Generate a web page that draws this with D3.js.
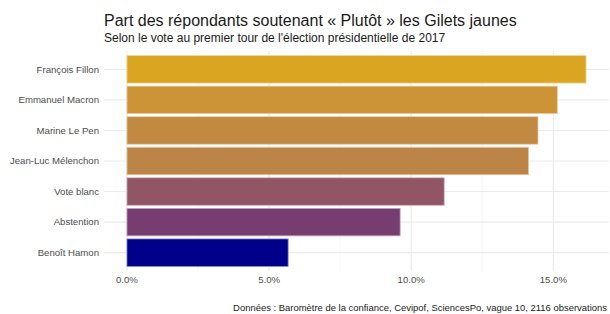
<!DOCTYPE html>
<html>
<head>
<meta charset="utf-8">
<script src="https://cdn.jsdelivr.net/npm/d3@7"></script>
<style>
  body { margin: 0; background: #fff; }
  text { font-family: "Liberation Sans", Arial, sans-serif; }
</style>
</head>
<body>
<div id="chart"></div>
<script>
// Data
const categories = ['François Fillon', 'Emmanuel Macron', 'Marine Le Pen', 'Jean-Luc Mélenchon',
                    'Vote blanc', 'Abstention', 'Benoît Hamon'];
const shares = [16.15, 15.14, 14.46, 14.13, 11.16, 9.61, 5.67];
const tickValues = [0, 5, 10, 15];
const minorTicks = [2.5, 7.5, 12.5];

const titleText = 'Part des répondants soutenant « Plutôt » les Gilets jaunes';
const subtitleText = 'Selon le vote au premier tour de l\'élection présidentielle de 2017';
const captionText = 'Données : Baromètre de la confiance, Cevipof, SciencesPo, vague 10, 2116 observations';

const width = 610;
const height = 314;
const panel = { left: 104, right: 609, top: 51, bottom: 271 };

const svg = d3.select('#chart').append('svg')
    .attr('width', width)
    .attr('height', height);

const maxVal = d3.max(shares);
const x = d3.scaleLinear()
    .domain([-0.05 * maxVal, maxVal * 1.05])
    .range([panel.left, panel.right]);

// ggplot-like discrete expansion: 0.6 of a step on each side
const y = d3.scaleBand()
    .domain(categories)
    .range([panel.top, panel.bottom])
    .paddingInner(0.1)
    .paddingOuter(0.15);

// fill gradient from low to high value
const fill = d3.scaleLinear()
    .domain(d3.extent(shares))
    .range(['darkblue', 'goldenrod'])
    .interpolate(d3.interpolateLab);

// grid
const grid = svg.append('g');
grid.selectAll('.minor')
    .data(minorTicks)
    .enter().append('line')
    .attr('x1', d => x(d)).attr('x2', d => x(d))
    .attr('y1', panel.top).attr('y2', panel.bottom)
    .attr('stroke', '#f0f0f0').attr('stroke-width', 0.6);
grid.selectAll('.major')
    .data(tickValues)
    .enter().append('line')
    .attr('x1', d => x(d)).attr('x2', d => x(d))
    .attr('y1', panel.top).attr('y2', panel.bottom)
    .attr('stroke', '#ebebeb').attr('stroke-width', 1.1);
grid.selectAll('.hline')
    .data(categories)
    .enter().append('line')
    .attr('x1', panel.left).attr('x2', panel.right)
    .attr('y1', d => y(d) + y.bandwidth() / 2)
    .attr('y2', d => y(d) + y.bandwidth() / 2)
    .attr('stroke', '#ebebeb').attr('stroke-width', 1.1);

// bars
svg.append('g').selectAll('rect')
    .data(shares)
    .enter().append('rect')
    .attr('x', x(0))
    .attr('y', (d, i) => y(categories[i]))
    .attr('width', d => x(d) - x(0))
    .attr('height', y.bandwidth())
    .attr('fill', d => fill(d))
    .attr('stroke', d => d3.interpolateRgb(fill(d), '#fff')(0.55))
    .attr('stroke-width', 0.8);

// y axis labels
svg.append('g').selectAll('text')
    .data(categories)
    .enter().append('text')
    .attr('x', panel.left - 5)
    .attr('y', d => y(d) + y.bandwidth() / 2)
    .attr('dy', '0.35em')
    .attr('text-anchor', 'end')
    .attr('fill', '#4d4d4d')
    .style('font-size', '9.6px')
    .text(d => d);

// x axis labels
svg.append('g').selectAll('text')
    .data(tickValues)
    .enter().append('text')
    .attr('x', d => x(d))
    .attr('y', panel.bottom + 12)
    .attr('text-anchor', 'middle')
    .attr('fill', '#4d4d4d')
    .style('font-size', '9.6px')
    .text(d => d3.format('.1f')(d) + '%');

// titles
svg.append('text')
    .attr('x', panel.left)
    .attr('y', 26)
    .attr('fill', '#1a1a1a')
    .style('font-size', '16px')
    .text(titleText);

svg.append('text')
    .attr('x', panel.left)
    .attr('y', 42)
    .attr('fill', '#1a1a1a')
    .style('font-size', '12px')
    .text(subtitleText);

svg.append('text')
    .attr('x', 607)
    .attr('y', 311)
    .attr('text-anchor', 'end')
    .attr('fill', '#1a1a1a')
    .style('font-size', '9.45px')
    .text(captionText);
</script>
</body>
</html>
